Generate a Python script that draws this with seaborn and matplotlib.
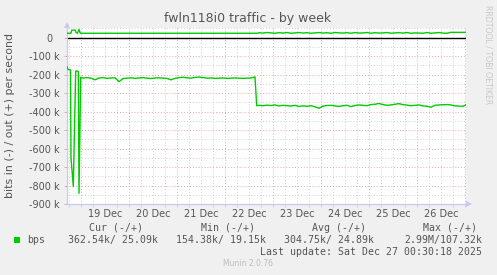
import numpy as np
import pandas as pd
import matplotlib
matplotlib.use("Agg")
import matplotlib.pyplot as plt
import seaborn as sns
from matplotlib.patches import Polygon, Rectangle

# ---------------- data ----------------
title = "fwln118i0 traffic - by week"
ylabel = "bits in (-) / out (+) per second"
series_name = "bps"

# hours since the left edge of the graph (18 Dec 17:00)
in_hours = [0, 0.5, 1.75, 2.0, 3.15, 4.35, 5.65, 6.0, 6.85,
            8, 10, 12, 14, 16, 18, 20, 22, 24, 26, 28, 30, 32, 34, 36, 38, 40, 42, 44, 46,
            48, 50, 52, 54, 56, 58, 60, 62, 64, 66, 68, 70, 72, 74, 76, 78, 80, 82, 84, 86,
            88, 90, 92, 94, 94.85,
            96, 98, 100, 102, 104, 106, 108, 110, 112, 114, 116, 118, 120, 122, 124, 126,
            128, 130, 132, 134, 136, 138, 140, 142, 144, 146, 148, 150, 152, 154, 156, 158,
            160, 162, 164, 166, 168, 170, 172, 174, 176, 178, 180, 182, 184, 186, 188, 190,
            192, 194, 196, 198, 199.5]
# inbound traffic, kbit/s (drawn below zero)
in_kbps = [157, 172, 175, 650, 806, 180, 182, 842, 214,
           218, 216, 219, 228, 218, 216, 220, 218, 217, 238, 221, 219, 217, 220, 218, 216, 219, 221, 218, 217,
           219, 220, 228, 220, 216, 214, 217, 219, 215, 213, 216, 219, 218, 220, 219, 218, 220, 219, 218, 219,
           220, 219, 218, 212, 368,
           366, 368, 365, 367, 364, 369, 366, 368, 370, 366, 372, 369, 371, 368, 374, 382,
           370, 367, 366, 369, 372, 368, 366, 373, 367, 364, 366, 368, 362, 360, 356, 362,
           366, 364, 360, 357, 362, 365, 368, 366, 364, 369, 371, 376, 366, 364, 363, 362,
           364, 369, 370, 371, 363]

out_hours = [0, 2.0, 2.35, 4.0, 4.5, 5.15, 5.5, 6.0, 6.65, 40, 80, 95.5,
             96, 98, 100, 102, 104, 106, 108, 110, 112, 114, 116, 118, 120, 122, 124, 126,
             128, 130, 132, 134, 136, 138, 140, 142, 144, 146, 148, 150, 152, 154, 156, 158,
             160, 162, 164, 166, 168, 170, 172, 174, 176, 178, 180, 182, 184, 186, 188, 190,
             192, 194, 196, 198, 199.5]
# outbound traffic, kbit/s (drawn above zero)
out_kbps = [24, 24, 41, 41, 29, 24, 30, 45, 24, 24, 24, 24,
            27, 25, 28, 26, 24, 27, 25, 28, 24, 26, 28, 25, 27, 24, 26, 28,
            25, 27, 24, 28, 26, 25, 27, 24, 28, 25, 26, 28, 24, 27, 25, 26,
            28, 24, 26, 27, 25, 28, 24, 26, 25, 24, 28, 24, 26, 28, 25, 24,
            29, 29, 29, 29, 29]

day_labels = ["19 Dec", "20 Dec", "21 Dec", "22 Dec", "23 Dec", "24 Dec", "25 Dec", "26 Dec"]
ytick_vals = [0, -100000, -200000, -300000, -400000, -500000, -600000, -700000, -800000, -900000]
ytick_labels = ["0  ", "-100 k", "-200 k", "-300 k", "-400 k", "-500 k", "-600 k", "-700 k", "-800 k", "-900 k"]

legend_headers = ["Cur (-/+)", "Min (-/+)", "Avg (-/+)", "Max (-/+)"]
legend_values = ["362.54k/ 25.09k", "154.38k/ 19.15k", "304.75k/ 24.89k", "2.99M/107.32k"]
last_update = "Last update: Sat Dec 27 00:30:18 2025"
footer = "Munin 2.0.76"
side_text = "RRDTOOL / TOBI OETIKER"

# ---------------- layout ----------------
W, H = 497, 275
L, R, T, B = 67, 466, 28, 204
GREEN = "#00CC00"
RED_GRID = "#EBA5A5"
GRAY_GRID = "#D0D0D0"
AXIS_C = "#C8C8F0"
TXT = "#555555"

sns.set_theme(style="white")
plt.rcParams["font.family"] = ["DejaVu Sans"]

fig = plt.figure(figsize=(W / 100, H / 100), dpi=100, facecolor="#F0F0F0")
ax = fig.add_axes([L / W, 1 - B / H, (R - L) / W, (B - T) / H])
ax.set_facecolor("white")

def fx(x):
    return x / W

def fy(y):
    return 1 - y / H

x_max = 199.5
ax.set_xlim(0, x_max)
ax.set_ylim(-900000, 52500)

# grid
for h in np.arange(1, x_max, 6):
    is_midnight = ((h - 7) % 24) == 0
    ax.axvline(h, color=RED_GRID if is_midnight else GRAY_GRID, lw=0.7,
               linestyle=(0, (1, 2)), zorder=1)
for v in np.arange(-900000, 50001, 50000):
    if v == 0:
        continue
    major = (v % 100000) == 0
    ax.axhline(v, color=RED_GRID if major else GRAY_GRID, lw=0.7,
               linestyle=(0, (1, 2)), zorder=1)
ax.axhline(0, color="black", lw=1.0, zorder=2)

df_in = pd.DataFrame({"hour": in_hours, "bps": -np.array(in_kbps, dtype=float) * 1000})
df_out = pd.DataFrame({"hour": out_hours, "bps": np.array(out_kbps, dtype=float) * 1000})
sns.lineplot(data=df_in, x="hour", y="bps", ax=ax, color=GREEN, lw=1.0, zorder=3)
sns.lineplot(data=df_out, x="hour", y="bps", ax=ax, color=GREEN, lw=1.0, zorder=3)

ax.set_xlabel("")
ax.set_ylabel("")

# spines
for s in ["top", "right"]:
    ax.spines[s].set_visible(False)
for s in ["left", "bottom"]:
    ax.spines[s].set_color(AXIS_C)
    ax.spines[s].set_linewidth(0.9)
    ax.spines[s].set_zorder(2.5)

# ticks
ax.set_yticks(ytick_vals)
ax.set_yticklabels(ytick_labels, fontsize=7, color=TXT)
ax.tick_params(axis="y", which="major", length=2.2, width=0.7, color=RED_GRID, pad=3.2, direction="out", left=True)

noon_pos = [19 + 24 * i for i in range(len(day_labels))]
ax.set_xticks(noon_pos)
ax.set_xticklabels(day_labels, fontsize=7, color=TXT)
ax.tick_params(axis="x", which="major", length=0, pad=3.5)
ax.set_xticks(list(np.arange(1, x_max, 6)), minor=True)
ax.tick_params(axis="x", which="minor", length=2, width=0.7, color=GRAY_GRID, direction="out", bottom=True)

# axis arrows
fig.patches.append(Polygon([[fx(466), fy(201)], [fx(466), fy(207)], [fx(472), fy(204)]],
                           closed=True, transform=fig.transFigure, facecolor=AXIS_C, edgecolor="none"))
fig.patches.append(Polygon([[fx(64), fy(28)], [fx(70), fy(28)], [fx(67), fy(22)]],
                           closed=True, transform=fig.transFigure, facecolor=AXIS_C, edgecolor="none"))

# texts
fig.text(fx(248), fy(18.5), title, ha="center", va="center", fontsize=9, color=TXT)
fig.text(fx(10.5), fy(115), ylabel, ha="center", va="center", rotation=90, fontsize=7.9, color=TXT)
fig.text(fx(488), fy(5), side_text, ha="center", va="top", rotation=270, fontsize=5.6, color="#C8C8C8")

mono = {"family": "DejaVu Sans Mono", "size": 7.1, "color": TXT}
header_x = [89.3, 200.7, 311.7, 422.7]
for hx, htxt in zip(header_x, legend_headers):
    fig.text(fx(hx), fy(228), htxt, ha="left", va="center", **mono)
value_right = [158.5, 266.5, 374.5, 482.3]
for vx, vtxt in zip(value_right, legend_values):
    fig.text(fx(vx), fy(240), vtxt, ha="right", va="center", **mono)
fig.patches.append(Rectangle((fx(14), fy(243)), 6 / W, 6 / H, transform=fig.transFigure,
                             facecolor=GREEN, edgecolor="none"))
fig.text(fx(27), fy(240), series_name, ha="left", va="center", **mono)
fig.text(fx(482.3), fy(252), last_update, ha="right", va="center", **mono)
fig.text(fx(248), fy(264), footer, ha="center", va="center", fontsize=5.5, color="#BBBBBB")

fig.savefig("out.png", dpi=100, facecolor=fig.get_facecolor())
